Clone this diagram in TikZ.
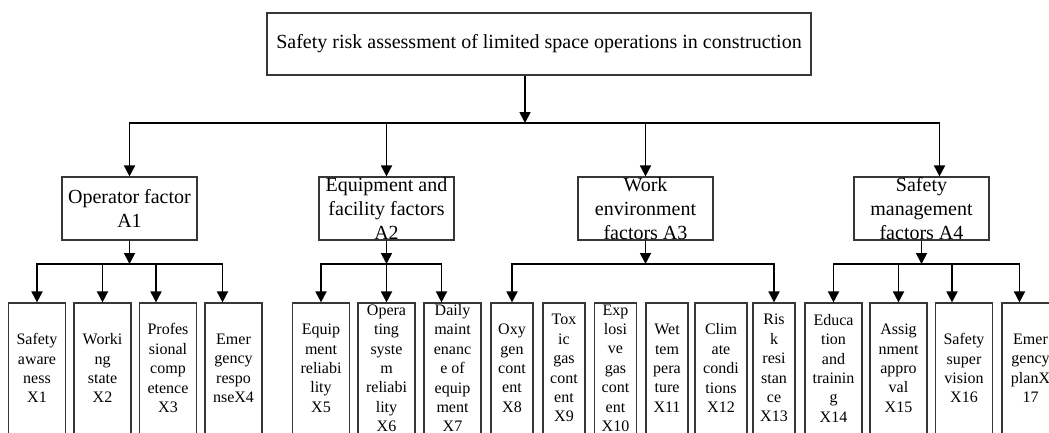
\documentclass[tikz,border=0pt]{standalone}
\usepackage{fontspec}
\setmainfont{Liberation Serif}
\usetikzlibrary{arrows.meta}
\definecolor{boxline}{RGB}{55,55,55}
% text of a box, centred on the node and allowed to run over its border
\newcommand{\boxtext}[1]{\makebox[0pt]{\smash{\raisebox{-0.25em}{\parbox[c]{200pt}{\centering #1}}}}}

\begin{document}
\begin{tikzpicture}[x=1pt,y=-1pt]
	\tikzset{
		goalbox/.style={draw=boxline, line width=1.2pt, minimum width=544pt, minimum height=62pt, inner sep=0pt, font=\fontsize{20}{24}\selectfont},
		factorbox/.style={draw=boxline, line width=1.2pt, minimum width=135pt, minimum height=63pt, inner sep=0pt, font=\fontsize{20}{24}\selectfont},
		leafbox/.style={draw=boxline, line width=1.2pt, minimum width=57pt, minimum height=131pt, inner sep=0pt, font=\fontsize{16}{19.4}\selectfont},
		narrow/.style={minimum width=42pt},
		link/.style={line width=1.8pt},
		arr/.style={link, -{Triangle[width=11pt,length=11pt]}}
	}
	\useasboundingbox (0,0) rectangle (1049,432);
	\clip (0,0) rectangle (1049,432);
	\fill [white] (0,0) rectangle (1049,432);
	% goal layer
	\node [goalbox] (goal) at (539,44) {Safety risk assessment of limited space operations in construction};
	% factor layer
	\node [factorbox] (A1) at (129.5,208.5) {\boxtext{Operator factor\\A1}};
	\node [factorbox] (A2) at (386.5,208.5) {\boxtext{Equipment and\\facility factors\\A2}};
	\node [factorbox] (A3) at (645.5,208.5) {\boxtext{Work\\environment\\factors A3}};
	\node [factorbox] (A4) at (921.5,208.5) {\boxtext{Safety\\management\\factors A4}};
	% index layer
	\node [leafbox] (X1) at (37,368.5) {\boxtext{Safety\\aware\\ness\\X1}};
	\node [leafbox] (X2) at (102.5,368.5) {\boxtext{Worki\\ng\\state\\X2}};
	\node [leafbox] (X3) at (168,368.5) {\boxtext{Profes\\sional\\comp\\etence\\X3}};
	\node [leafbox] (X4) at (233.5,368.5) {\boxtext{Emer\\gency\\respo\\nseX4}};
	\node [leafbox] (X5) at (321,368.5) {\boxtext{Equip\\ment\\reliabi\\lity\\X5}};
	\node [leafbox] (X6) at (386.5,368.5) {\boxtext{Opera\\ting\\syste\\m\\reliabi\\lity\\X6}};
	\node [leafbox] (X7) at (452.5,368.5) {\boxtext{Daily\\maint\\enanc\\e of\\equip\\ment\\X7}};
	\node [leafbox,narrow] (X8) at (512,368.5) {\boxtext{Oxy\\gen\\cont\\ent\\X8}};
	\node [leafbox,narrow] (X9) at (564,368.5) {\boxtext{Tox\\ic\\gas\\cont\\ent\\X9}};
	\node [leafbox,narrow] (X10) at (615.5,368.5) {\boxtext{Exp\\losi\\ve\\gas\\cont\\ent\\X10}};
	\node [leafbox,narrow] (X11) at (667,368.5) {\boxtext{Wet\\tem\\pera\\ture\\X11}};
	\node [leafbox,minimum width=52pt] (X12) at (721,368.5) {\boxtext{Clim\\ate\\condi\\tions\\X12}};
	\node [leafbox,narrow] (X13) at (774,368.5) {\boxtext{Ris\\k\\resi\\stan\\ce\\X13}};
	\node [leafbox] (X14) at (833.5,368.5) {\boxtext{Educa\\tion\\and\\trainin\\g\\X14}};
	\node [leafbox] (X15) at (898.5,368.5) {\boxtext{Assig\\nment\\appro\\val\\X15}};
	\node [leafbox] (X16) at (964,368.5) {\boxtext{Safety\\super\\vision\\X16}};
	\node [leafbox] (X17) at (1030.5,368.5) {\boxtext{Emer\\gency\\planX\\17}};
	% drop points that sit off the box centres
	\coordinate (A4in) at ([xshift=18pt]A4.north);
	\coordinate (d3) at ([xshift=-12pt]X3.north);
	\coordinate (d4) at ([xshift=-11pt]X4.north);
	\coordinate (d7) at ([xshift=-11pt]X7.north);
	\coordinate (d16) at ([xshift=-12pt]X16.north);
	\coordinate (d17) at ([xshift=-11pt]X17.north);
	% buses
	\coordinate (mainbus) at (525,123);
	\coordinate (busA1) at (129.5,264);
	\coordinate (busA2) at (386.5,264);
	\coordinate (busA3) at (645.5,264);
	\coordinate (busA4) at (921.5,264);
	% goal to factors
	\draw [arr] (goal.south -| mainbus) -- (mainbus);
	\draw [arr] (mainbus) -| (A1.north);
	\draw [arr] (mainbus) -| (A4in);
	\draw [arr] (mainbus -| A2.north) -- (A2.north);
	\draw [arr] (mainbus -| A3.north) -- (A3.north);
	% operator factor
	\draw [arr] (A1.south) -- (busA1);
	\draw [arr] (busA1) -| (X1.north);
	\draw [arr] (busA1) -| (d4);
	\draw [arr] (busA1 -| X2.north) -- (X2.north);
	\draw [arr] (busA1 -| d3) -- (d3);
	% equipment and facility factors
	\draw [arr] (A2.south) -- (busA2);
	\draw [arr] (busA2) -| (X5.north);
	\draw [arr] (busA2) -| (d7);
	\draw [arr] (busA2) -- (X6.north);
	% work environment factors
	\draw [arr] (A3.south) -- (busA3);
	\draw [arr] (busA3) -| (X8.north);
	\draw [arr] (busA3) -| (X13.north);
	% safety management factors
	\draw [arr] (A4.south) -- (busA4);
	\draw [arr] (busA4) -| (X14.north);
	\draw [arr] (busA4) -| (d17);
	\draw [arr] (busA4 -| X15.north) -- (X15.north);
	\draw [arr] (busA4 -| d16) -- (d16);
\end{tikzpicture}
\end{document}
